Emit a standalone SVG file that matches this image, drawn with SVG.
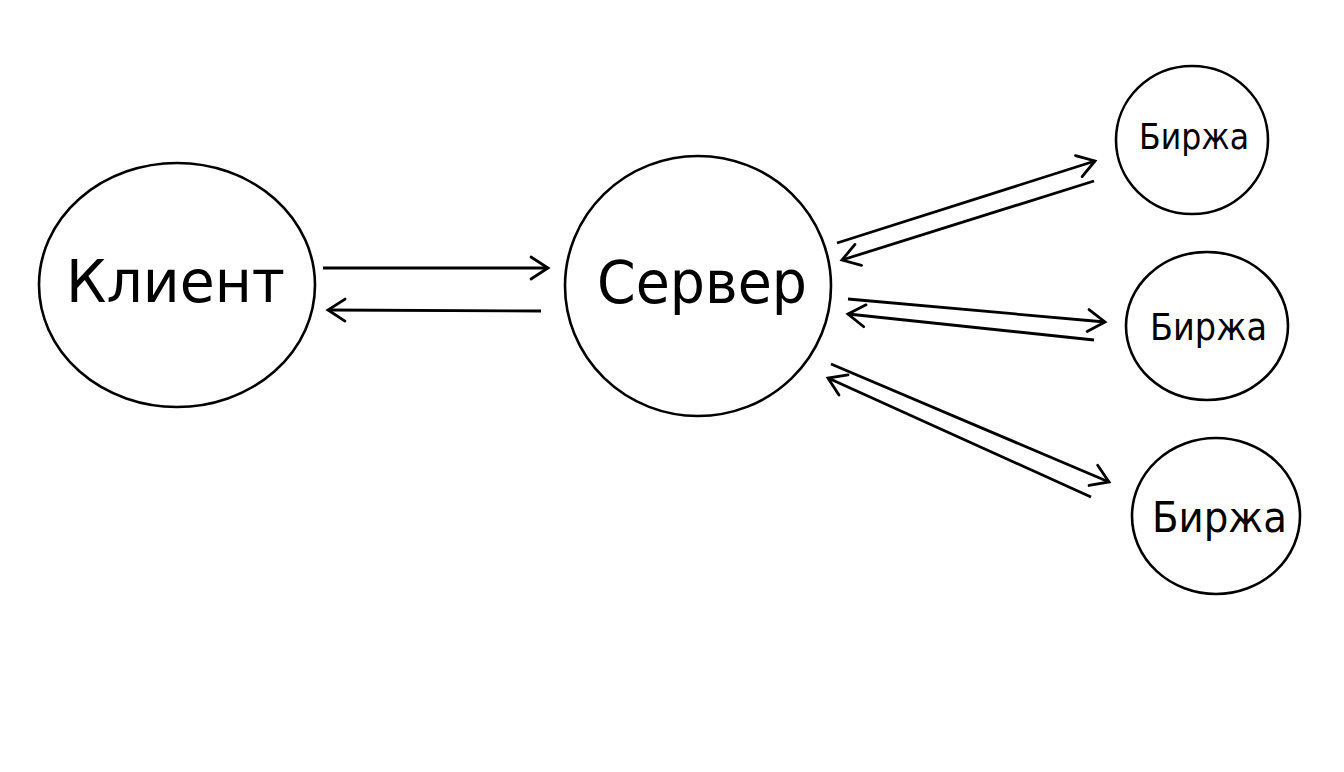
<svg xmlns="http://www.w3.org/2000/svg" width="1344" height="772" viewBox="0 0 1344 772">
<style>
.node ellipse{fill:#fff;stroke:#000;stroke-width:2.6}
.node text{font-family:"DejaVu Sans","Liberation Sans",sans-serif;fill:#000}
.cond{font-family:"DejaVu Sans Condensed","DejaVu Sans","Liberation Sans",sans-serif}
#connectors line{stroke:#000;stroke-width:2.8;fill:none;marker-end:url(#arr)}
</style>
<defs>
<marker id="arr" markerUnits="userSpaceOnUse" viewBox="-22 -14 26 28" refX="0" refY="0" markerWidth="26" markerHeight="28" orient="auto">
<path d="M-17,-11 L0,0 L-17,11" fill="none" stroke="#000" stroke-width="2.8" stroke-linecap="round" stroke-linejoin="miter"/>
</marker>
</defs>
<rect width="1344" height="772" fill="#fff"/>
<g id="client" class="node">
<ellipse cx="177" cy="285" rx="138" ry="122"/>
<text x="66" y="302" font-size="58" textLength="219" lengthAdjust="spacingAndGlyphs">Клиент</text>
</g>
<g id="server" class="node">
<ellipse cx="698" cy="286" rx="133" ry="130"/>
<text x="597" y="303" font-size="58" textLength="210" lengthAdjust="spacingAndGlyphs">Сервер</text>
</g>
<g id="exchange1" class="node">
<ellipse cx="1192" cy="140" rx="76" ry="74"/>
<text class="cond" x="1139" y="149" font-size="36" textLength="110" lengthAdjust="spacingAndGlyphs">Биржа</text>
</g>
<g id="exchange2" class="node">
<ellipse cx="1207" cy="326" rx="81" ry="74"/>
<text class="cond" x="1150" y="340" font-size="37" textLength="117" lengthAdjust="spacingAndGlyphs">Биржа</text>
</g>
<g id="exchange3" class="node">
<ellipse cx="1216" cy="516" rx="84" ry="78"/>
<text x="1152" y="532" font-size="43" textLength="135" lengthAdjust="spacingAndGlyphs">Биржа</text>
</g>
<g id="connectors">
<line x1="323" y1="268" x2="548" y2="268"/>
<line x1="541" y1="311" x2="328" y2="310"/>
<line x1="837" y1="243" x2="1095" y2="161"/>
<line x1="1094" y1="181" x2="842" y2="260"/>
<line x1="848" y1="299" x2="1105" y2="322"/>
<line x1="1094" y1="340" x2="848" y2="314"/>
<line x1="831" y1="364" x2="1109" y2="482"/>
<line x1="1091" y1="497" x2="828" y2="378"/>
</g>
</svg>
